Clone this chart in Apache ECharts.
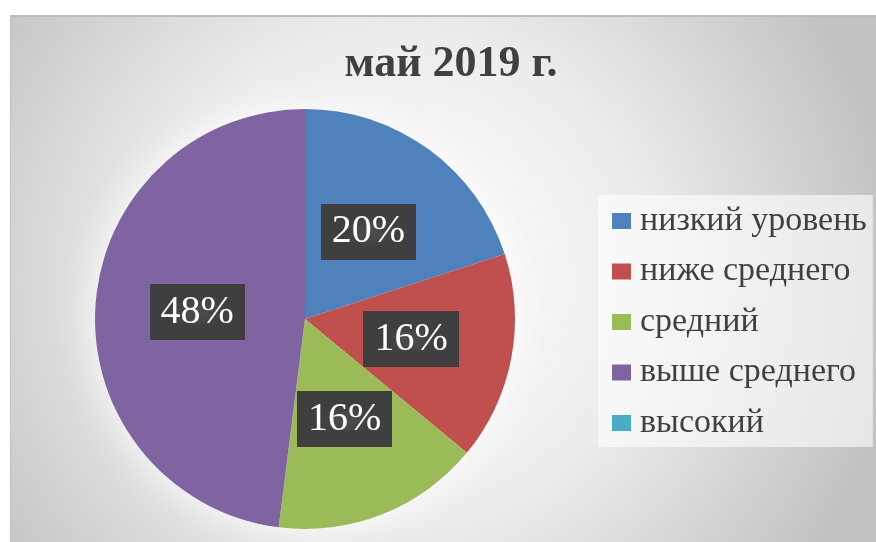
<!DOCTYPE html>
<html>
<head>
    <meta charset="utf-8">
    <title>май 2019 г.</title>
    <script src="https://cdn.jsdelivr.net/npm/echarts@6/dist/echarts.min.js"></script>
    <style>
        html, body { margin: 0; padding: 0; background: #fff; }
        #chart {
            position: absolute; left: 10px; top: 15px;
            width: 866px; height: 527px;
            border-top: 2px solid #bcbcbc; border-left: 1px solid #c4c4c4;
            box-sizing: border-box;
        }
    </style>
</head>
<body>
    <div id="chart"></div>
    <script type="text/javascript">
        var titleText = 'май 2019 г.';
        var categories = ['низкий уровень', 'ниже среднего', 'средний', 'выше среднего', 'высокий'];
        var values = [20, 16, 16, 48, 0];
        var colors = ['#4f81bd', '#c0504d', '#9bbb59', '#8064a2', '#4bacc6'];

        // мелкий точечный узор для подложки подписей
        var pat = document.createElement('canvas');
        pat.width = 6; pat.height = 6;
        var ctx = pat.getContext('2d');
        ctx.fillStyle = '#3f3f3f';
        ctx.fillRect(0, 0, 6, 6);
        ctx.fillStyle = '#4a4a4a';
        ctx.fillRect(2, 2, 2, 2);

        var pieData = [];
        for (var i = 0; i < categories.length; i++) {
            pieData.push({
                name: categories[i],
                value: values[i],
                itemStyle: { color: colors[i] },
                label: { show: values[i] > 0 }
            });
        }

        var myChart = echarts.init(document.getElementById('chart'));
        var option = {
            backgroundColor: {
                type: 'radial', x: 0.45, y: 0.5, r: 0.95,
                colorStops: [
                    { offset: 0, color: '#ffffff' },
                    { offset: 0.5, color: '#ececec' },
                    { offset: 1, color: '#c2c2c2' }
                ]
            },
            title: {
                text: titleText,
                left: 435, top: 21, textAlign: 'center',
                textStyle: { fontFamily: 'Liberation Serif', fontWeight: 'bold', fontSize: 44, color: '#404040' }
            },
            legend: {
                orient: 'vertical',
                left: 587, top: 178,
                padding: [9, 6, 7, 14],
                backgroundColor: 'rgba(255,255,255,0.6)',
                icon: 'rect',
                itemWidth: 19, itemHeight: 16,
                itemGap: 16.5,
                data: categories,
                textStyle: { fontFamily: 'Liberation Serif', fontSize: 34, lineHeight: 33, color: '#404040', padding: [0, 0, 0, 4] }
            },
            series: [
                {
                    type: 'pie',
                    silent: true,
                    center: [294, 302],
                    radius: 210,
                    z: 1,
                    label: { show: false },
                    itemStyle: { color: '#ffffff', shadowColor: 'rgba(255,255,255,0.9)', shadowBlur: 40 },
                    data: [{ name: '', value: 1 }]
                },
                {
                    type: 'pie',
                    center: [294, 302],
                    radius: 210,
                    startAngle: 90,
                    clockwise: true,
                    z: 2,
                    label: {
                        show: true,
                        position: 'inside',
                        formatter: '{d}%',
                        fontFamily: 'Liberation Serif',
                        fontSize: 40,
                        lineHeight: 38,
                        color: '#ffffff',
                        backgroundColor: { image: pat, repeat: 'repeat' },
                        padding: [9, 11, 9, 11],
                        shadowColor: 'rgba(0,0,0,0.45)',
                        shadowBlur: 5,
                        shadowOffsetX: 2,
                        shadowOffsetY: 3
                    },
                    labelLine: { show: false },
                    emphasis: { scale: false },
                    data: pieData
                }
            ]
        };
        myChart.setOption(option);
    </script>
</body>
</html>
